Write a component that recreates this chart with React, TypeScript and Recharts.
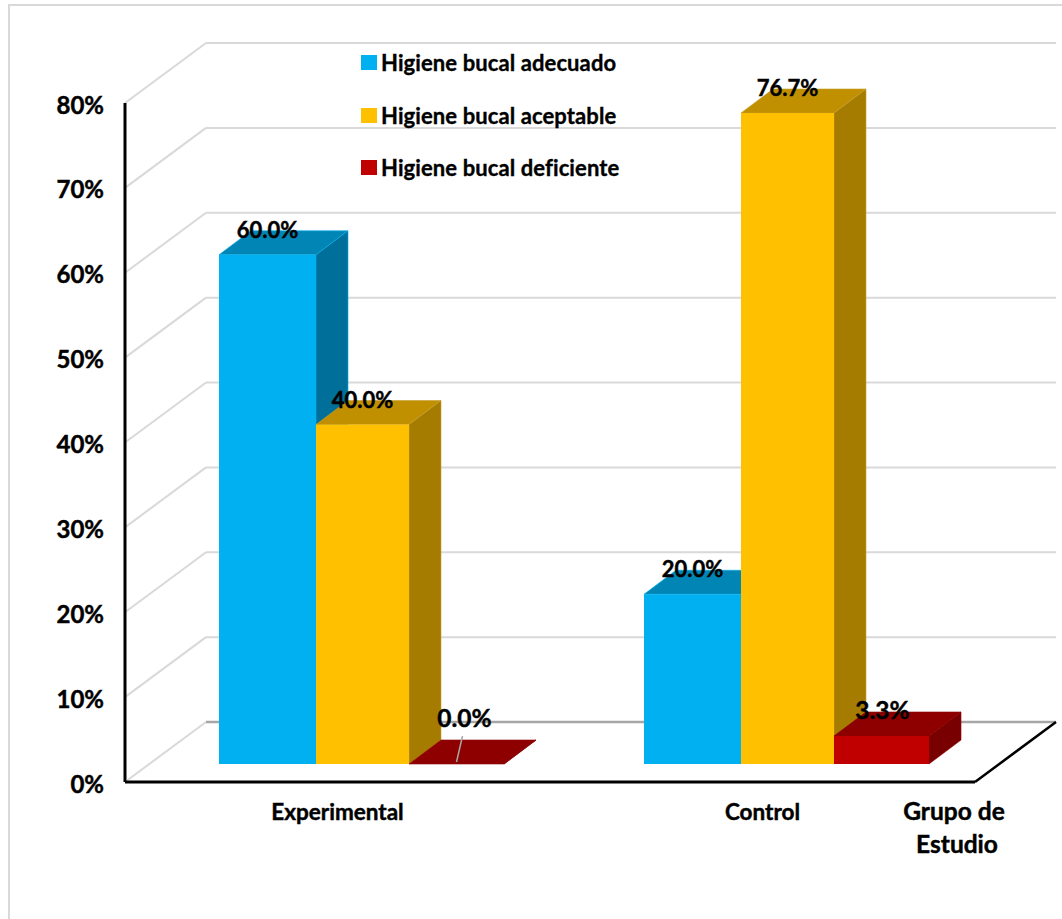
import React from "react";
import { BarChart, Bar, XAxis, YAxis, CartesianGrid, Legend, LabelList } from "recharts";

// Study groups and the oral hygiene share of each group, in percent
const categories = ["Experimental", "Control"];
const adecuado = [60.0, 20.0];
const aceptable = [40.0, 76.7];
const deficiente = [0.0, 3.3];
const yTicks = [0, 10, 20, 30, 40, 50, 60, 70, 80];

const seriesNames = {
  adecuado: "Higiene bucal adecuado",
  aceptable: "Higiene bucal aceptable",
  deficiente: "Higiene bucal deficiente",
};

const rows = categories.map((grupo, i) => ({
  grupo,
  adecuado: adecuado[i],
  aceptable: aceptable[i],
  deficiente: deficiente[i],
}));

const WIDTH = 1062;
const HEIGHT = 919;
const PLOT_LEFT = 125;
const PLOT_TOP = 103;
const PLOT_RIGHT = 975;
const PLOT_BOTTOM = 782;

// Projection of the chart's depth: wall offset and the offset of the bars inside it
const WALL_DX = 81;
const WALL_DY = -60;
const BAR_DX = 24;
const BAR_DY = -18;
const BOX_DX = 32;
const BOX_DY = -24;

const FONT = "Lato, 'Open Sans', sans-serif";

// A thin outline thickens the bold face a little
const heavyText = { stroke: "#000", strokeWidth: 0.45 };

const palette = {
  adecuado: { front: "#00B0F0", top: "#0085B5", side: "#006F9A", edge: "#00B0F0" },
  aceptable: { front: "#FFC000", top: "#C09000", side: "#A67C00", edge: "#C8A030" },
  deficiente: { front: "#C00000", top: "#8E0000", side: "#780000", edge: "#8E0000" },
};

// Draws one bar as a box: front face plus top and right faces pushed back in depth
function makeBox(colors: typeof palette.adecuado, trimLeft: number, growRight: number) {
  return function Box(props: any) {
    const { x, y, width, height } = props;
    const left = x + BAR_DX + trimLeft;
    const right = x + BAR_DX + width + growRight;
    const top = y + BAR_DY;
    const bottom = y + height + BAR_DY;
    const pts = (list: number[][]) => list.map((p) => p.join(",")).join(" ");
    return (
      <g>
        <polygon
          points={pts([
            [left, top],
            [right, top],
            [right + BOX_DX, top + BOX_DY],
            [left + BOX_DX, top + BOX_DY],
          ])}
          fill={colors.top}
          stroke={colors.edge}
          strokeWidth={0.6}
        />
        <polygon
          points={pts([
            [right, top],
            [right + BOX_DX, top + BOX_DY],
            [right + BOX_DX, bottom + BOX_DY],
            [right, bottom],
          ])}
          fill={colors.side}
          stroke={colors.edge}
          strokeWidth={0.6}
        />
        {height > 0 && <rect x={left} y={top} width={right - left} height={bottom - top} fill={colors.front} />}
      </g>
    );
  };
}

// Floor and wall line for one value: side wall diagonal, then the back wall run
function WallLine(props: any) {
  const { x1, y1, x2 } = props;
  const isFloor = Math.abs(y1 - PLOT_BOTTOM) < 1;
  const backY = y1 + WALL_DY;
  return (
    <g key={`wall-${y1}`}>
      <polyline
        points={`${x1},${y1} ${x1 + WALL_DX},${backY}`}
        fill="none"
        stroke="#D9D9D9"
        strokeWidth={2}
      />
      <line
        x1={x1 + WALL_DX}
        y1={backY}
        x2={x2 + WALL_DX}
        y2={backY}
        stroke={isFloor ? "#A6A6A6" : "#D9D9D9"}
        strokeWidth={isFloor ? 2.4 : 2}
      />
      {isFloor && (
        <line x1={x2} y1={y1} x2={x2 + WALL_DX} y2={backY} stroke="#000" strokeWidth={2.5} />
      )}
    </g>
  );
}

// Value label above a box; an empty bar gets a leader line to its label
function ValueLabel(props: any) {
  const box = props.viewBox ?? props;
  const { x, y, width } = box;
  const value = Number(props.value);
  const cx = x + BAR_DX + width / 2;
  const top = y + BAR_DY;
  const text = `${value.toFixed(1)}%`;
  const labelStyle = {
    fontFamily: FONT,
    fontWeight: 700,
    fontSize: value < 10 ? 24.5 : 22,
    fill: "#000",
    ...heavyText,
  };
  if (value === 0) {
    return (
      <g>
        <line x1={cx} y1={top - 2} x2={cx + 6} y2={top - 28} stroke="#A6A6A6" strokeWidth={1.5} />
        <text x={cx + 8} y={top - 37} textAnchor="middle" {...labelStyle}>
          {text}
        </text>
      </g>
    );
  }
  return (
    <text x={cx + 1} y={top - 17} textAnchor="middle" {...labelStyle}>
      {text}
    </text>
  );
}

function LegendList(props: any) {
  const items = props.payload ?? [];
  return (
    <div>
      {items.map((item: any) => (
        <div
          key={item.value}
          style={{
            display: "flex",
            alignItems: "center",
            height: 52.5,
            fontFamily: FONT,
            fontWeight: 700,
            fontSize: 22,
            letterSpacing: 0.1,
            color: "#000",
            WebkitTextStroke: "0.35px #000",
            whiteSpace: "nowrap",
          }}
        >
          <span style={{ width: 16, height: 15, background: item.color, marginRight: 4 }} />
          {item.value}
        </div>
      ))}
    </div>
  );
}

function AxisTitle(props: any) {
  const { x, width } = props.viewBox;
  const cx = x + width - 21;
  return (
    <text textAnchor="middle" fontFamily={FONT} fontWeight={700} fontSize={24.5} fill="#000" {...heavyText}>
      <tspan x={cx} y={820}>Grupo de</tspan>
      <tspan x={cx + 3} y={853}>Estudio</tspan>
    </text>
  );
}

export default function App() {
  return (
    <div style={{ position: "absolute", left: 0, top: 0, width: WIDTH, height: HEIGHT, overflow: "hidden", background: "#fff" }}>
      <div
        style={{
          position: "absolute",
          left: 8,
          top: 4,
          width: WIDTH,
          height: HEIGHT,
          borderLeft: "2px solid #D9D9D9",
          borderTop: "2px solid #D9D9D9",
        }}
      />
      <BarChart
        width={WIDTH}
        height={HEIGHT}
        data={rows}
        margin={{ top: PLOT_TOP, right: WIDTH - PLOT_RIGHT, bottom: 0, left: 0 }}
        barCategoryGap={70}
        barGap={0}
        style={{ position: "absolute", left: 0, top: 0 }}
      >
        <CartesianGrid vertical={false} horizontal={WallLine as any} />
        <XAxis
          dataKey="grupo"
          height={HEIGHT - PLOT_BOTTOM}
          axisLine={{ stroke: "#000", strokeWidth: 3 }}
          tickLine={false}
          tickSize={0}
          tickMargin={22}
          tick={{ fontFamily: FONT, fontWeight: 700, fontSize: 22.5, fill: "#000", ...heavyText }}
          label={{ content: AxisTitle as any }}
        />
        <YAxis
          width={PLOT_LEFT}
          domain={[0, 80]}
          ticks={yTicks}
          interval={0}
          tickFormatter={(v: number) => `${v}%`}
          axisLine={{ stroke: "#000", strokeWidth: 3 }}
          tickLine={false}
          tickSize={0}
          tickMargin={21}
          tick={{ fontFamily: FONT, fontWeight: 700, fontSize: 24, fill: "#000", dy: 2, ...heavyText }}
        />
        <Legend
          layout="vertical"
          align="center"
          verticalAlign="middle"
          itemSorter={null}
          content={LegendList as any}
          wrapperStyle={{ left: 361, top: 36.5, width: 300, height: 160 }}
        />
        <Bar
          dataKey="adecuado"
          name={seriesNames.adecuado}
          fill={palette.adecuado.front}
          isAnimationActive={false}
          shape={makeBox(palette.adecuado, 0, 2) as any}
        >
          <LabelList dataKey="adecuado" content={ValueLabel as any} />
        </Bar>
        <Bar
          dataKey="aceptable"
          name={seriesNames.aceptable}
          fill={palette.aceptable.front}
          isAnimationActive={false}
          shape={makeBox(palette.aceptable, 2, 0) as any}
        >
          <LabelList dataKey="aceptable" content={ValueLabel as any} />
        </Bar>
        <Bar
          dataKey="deficiente"
          name={seriesNames.deficiente}
          fill={palette.deficiente.front}
          isAnimationActive={false}
          shape={makeBox(palette.deficiente, 0, 0) as any}
        >
          <LabelList dataKey="deficiente" content={ValueLabel as any} />
        </Bar>
      </BarChart>
    </div>
  );
}
